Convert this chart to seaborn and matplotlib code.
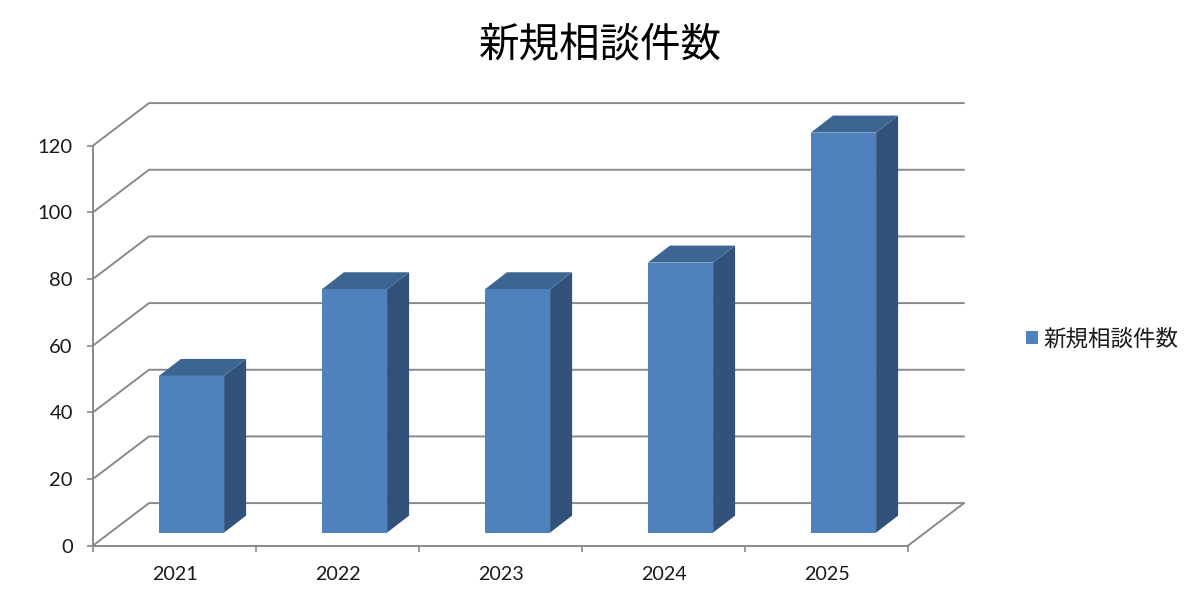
import matplotlib
matplotlib.use("Agg")
import matplotlib.pyplot as plt
import numpy as np
import pandas as pd
import seaborn as sns
from matplotlib.patches import Polygon

years = ["2021", "2022", "2023", "2024", "2025"]
counts = [47, 73, 73, 81, 120]
y_ticks = [0, 20, 40, 60, 80, 100, 120]
series_name = "新規相談件数"

FRONT = "#4F81BD"
SIDE = "#31527B"
TOP = "#3D6591"
WALL = "#898989"
TEXT = "#1a1a1a"

W, H = 1200, 605
AX_L, AX_R, AX_B, AX_T = 93, 908, 545.6, 145.6


def main():
    sns.set_style("white")
    plt.rcParams["font.family"] = ["Lato", "Noto Sans CJK JP", "DejaVu Sans"]

    df = pd.DataFrame({"year": years, "count": counts})

    fig = plt.figure(figsize=(W / 100, H / 100), dpi=100)
    ax = fig.add_axes([AX_L / W, 1 - AX_B / H, (AX_R - AX_L) / W, (AX_B - AX_T) / H])

    sns.barplot(data=df, x="year", y="count", color=FRONT, saturation=1,
                width=0.4, label=series_name, ax=ax, zorder=3)
    ax.set_xlim(-0.5, 4.5)
    ax.set_ylim(0, 120)

    # pixel -> data units
    ux = 5 / (AX_R - AX_L)
    uy = 120 / (AX_B - AX_T)

    # back wall and floor lines
    wall_dx, wall_dy = 56 * ux, 42.5 * uy
    line = dict(color=WALL, lw=1.4, clip_on=False, zorder=1, solid_capstyle="round")
    for v in y_ticks:
        ax.plot([-0.5, -0.5 + wall_dx, 4.5 + wall_dx], [v, v + wall_dy, v + wall_dy], **line)
    ax.plot([4.5, 4.5 + wall_dx], [0, wall_dy], **line)

    # fake 3d bars: shift the front face and add side + top
    shift_x, shift_y = 17 * ux, 13 * uy
    dep_x, dep_y = 22 * ux, 17 * uy
    for p in ax.patches:
        p.set_x(p.get_x() + shift_x)
        p.set_y(p.get_y() + shift_y)
        p.set_clip_on(False)
        p.set_linewidth(0)
        x0, x1 = p.get_x(), p.get_x() + p.get_width()
        y0, y1 = p.get_y(), p.get_y() + p.get_height()
        side = np.array([[x1, y0], [x1 + dep_x, y0 + dep_y], [x1 + dep_x, y1 + dep_y], [x1, y1]])
        top = np.array([[x0, y1], [x1, y1], [x1 + dep_x, y1 + dep_y], [x0 + dep_x, y1 + dep_y]])
        ax.add_patch(Polygon(side, fc=SIDE, ec="none", clip_on=False, zorder=2.8))
        ax.add_patch(Polygon(top, fc=TOP, ec="none", clip_on=False, zorder=2.8))

    # axes
    sns.despine(ax=ax)
    for s in ["left", "bottom"]:
        ax.spines[s].set_color(WALL)
        ax.spines[s].set_linewidth(1.4)
    ax.set_xlabel("")
    ax.set_ylabel("")
    ax.set_yticks(y_ticks)
    ax.set_xticks(np.arange(-0.5, 5, 1))
    ax.set_xticklabels([])
    ax.set_xticks(range(5), years, minor=True)
    ax.tick_params(axis="x", which="major", bottom=True, length=4.5, width=1.2, color=WALL)
    ax.tick_params(axis="x", which="minor", bottom=False, pad=13, labelsize=14.2, labelcolor=TEXT)
    ax.tick_params(axis="y", left=True, length=4.5, width=1.2, color=WALL, pad=10,
                   labelsize=14.5, labelcolor=TEXT)

    fig.text(600.5 / W, 1 - 45 / H, series_name, fontsize=29.2, color="black",
             ha="center", va="center", family=["Noto Sans CJK JP", "DejaVu Sans"])

    handles, labels = ax.get_legend_handles_labels()
    leg = ax.legend(handles[:1], labels[:1], loc="center left", frameon=False,
                    bbox_to_anchor=(1026 / W, 1 - 339 / H), bbox_transform=fig.transFigure,
                    handlelength=0.55, handleheight=0.55, handletextpad=0.22,
                    borderpad=0, borderaxespad=0,
                    prop={"family": ["Noto Sans CJK JP", "DejaVu Sans"], "size": 16.2})
    leg.get_texts()[0].set_color(TEXT)

    fig.savefig("out.png", dpi=100, facecolor="white")


if __name__ == "__main__":
    main()
